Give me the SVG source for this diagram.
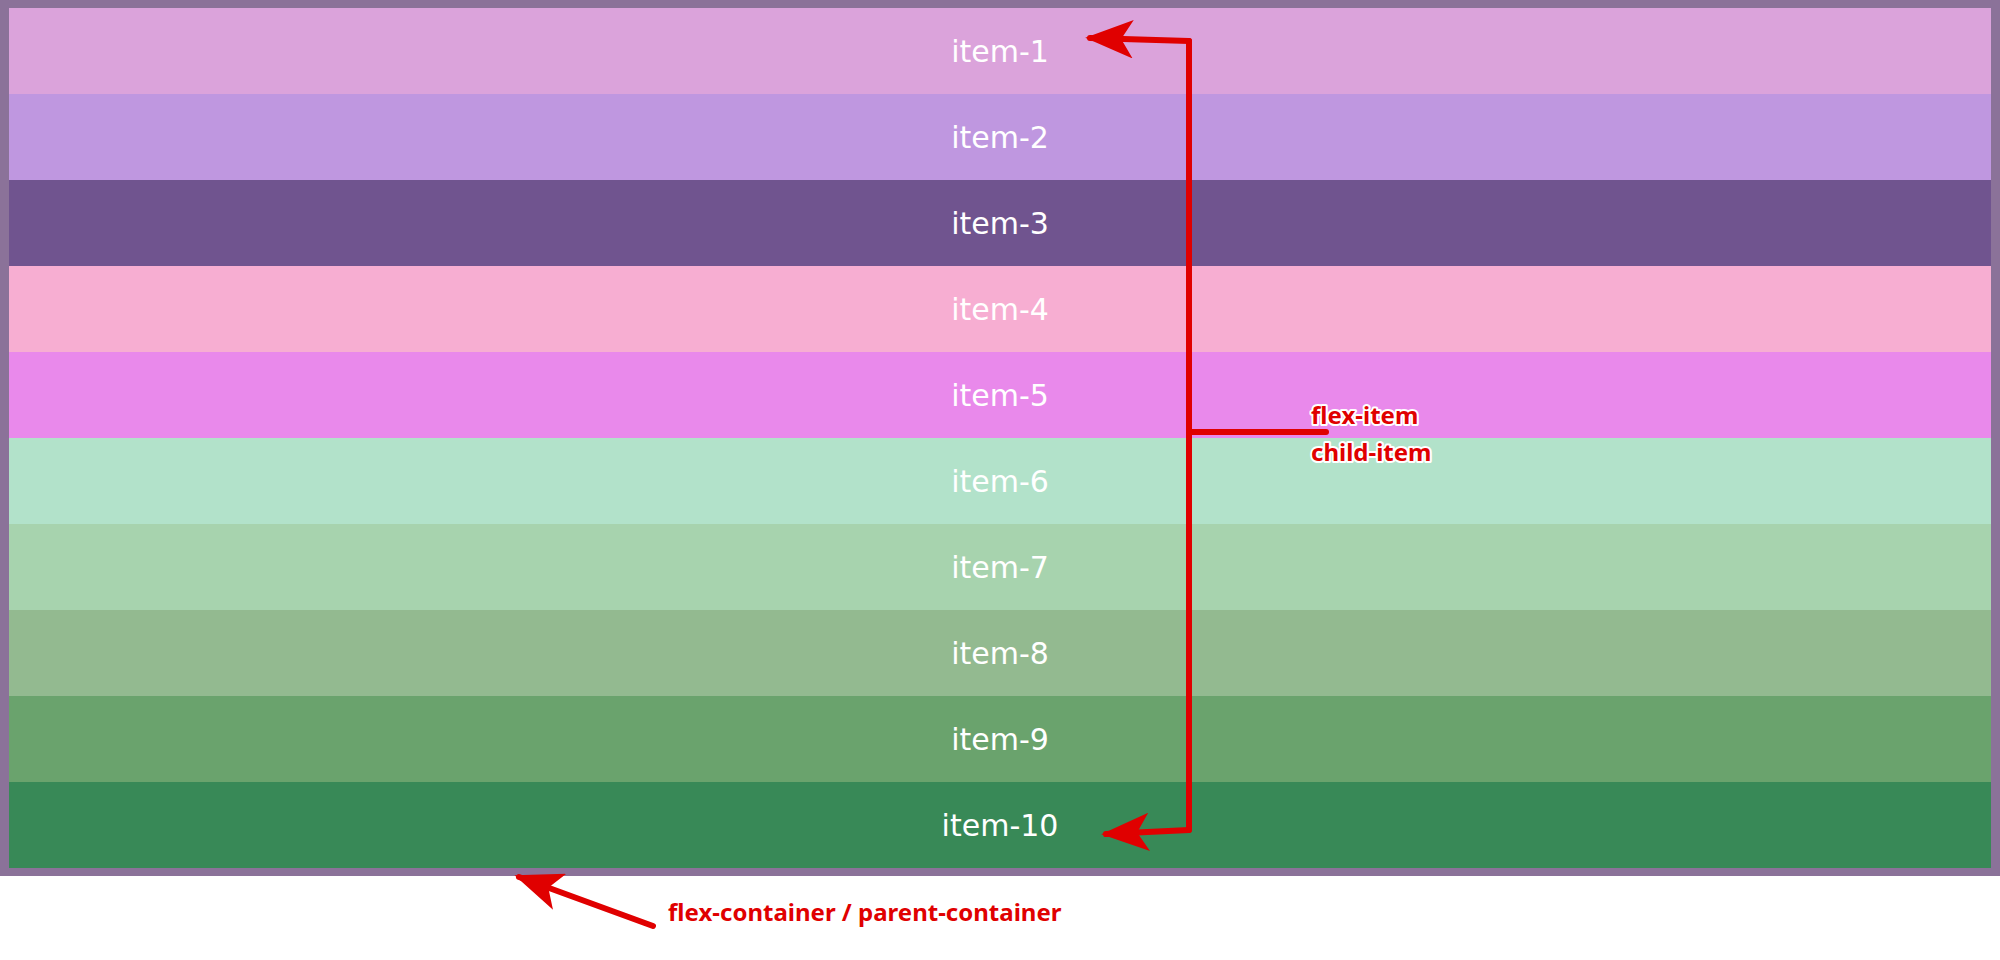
<svg xmlns="http://www.w3.org/2000/svg" width="2000" height="960" viewBox="0 0 2000 960">
<style>
.it{font-family:"DejaVu Sans",sans-serif;font-size:30px;fill:#fff;text-anchor:middle;dominant-baseline:central}
.lb{font-family:"Noto Sans","DejaVu Sans",sans-serif;font-weight:bold;font-size:24px;fill:#e00000;stroke:#fff;stroke-width:4;paint-order:stroke;stroke-linejoin:round}
.ar{stroke:#e00000;stroke-width:6;fill:none;stroke-linecap:round;stroke-linejoin:round}
</style>
<defs>
<marker id="ah" viewBox="0 0 20 16" refX="18" refY="8" markerWidth="8" markerHeight="6.4" orient="auto" markerUnits="strokeWidth">
<path d="M0,0 L20,8 L0,16 L5,8 Z" fill="#e00000"/>
</marker>
</defs>
<rect width="2000" height="960" fill="#fff"/>
<g id="container"><rect x="0" y="0" width="2000" height="876" fill="#8b7299"/></g>
<g id="item-1"><rect x="9" y="8" width="1982" height="86" fill="#dba3db"/><text class="it" x="1000" y="51">item-1</text></g>
<g id="item-2"><rect x="9" y="94" width="1982" height="86" fill="#bf97e0"/><text class="it" x="1000" y="137">item-2</text></g>
<g id="item-3"><rect x="9" y="180" width="1982" height="86" fill="#70548f"/><text class="it" x="1000" y="223">item-3</text></g>
<g id="item-4"><rect x="9" y="266" width="1982" height="86" fill="#f7aed2"/><text class="it" x="1000" y="309">item-4</text></g>
<g id="item-5"><rect x="9" y="352" width="1982" height="86" fill="#e989eb"/><text class="it" x="1000" y="395">item-5</text></g>
<g id="item-6"><rect x="9" y="438" width="1982" height="86" fill="#b2e2ca"/><text class="it" x="1000" y="481">item-6</text></g>
<g id="item-7"><rect x="9" y="524" width="1982" height="86" fill="#a7d3ae"/><text class="it" x="1000" y="567">item-7</text></g>
<g id="item-8"><rect x="9" y="610" width="1982" height="86" fill="#93ba90"/><text class="it" x="1000" y="653">item-8</text></g>
<g id="item-9"><rect x="9" y="696" width="1982" height="86" fill="#6aa36d"/><text class="it" x="1000" y="739">item-9</text></g>
<g id="item-10"><rect x="9" y="782" width="1982" height="86" fill="#388957"/><text class="it" x="1000" y="825">item-10</text></g>
<g id="connectors">
<path class="ar" d="M1189,41 L1189,830"/>
<path class="ar" d="M1189,432 L1326,432"/>
<path class="ar" d="M1189,41 L1090,38" marker-end="url(#ah)"/>
<path class="ar" d="M1189,830 L1106,834" marker-end="url(#ah)"/>
<path class="ar" d="M653,926 L519,877" marker-end="url(#ah)"/>
</g>
<g id="labels">
<text class="lb" x="1311" y="424">flex-item</text>
<text class="lb" x="1311" y="461">child-item</text>
<text class="lb" x="668" y="921">flex-container / parent-container</text>
</g>
</svg>
